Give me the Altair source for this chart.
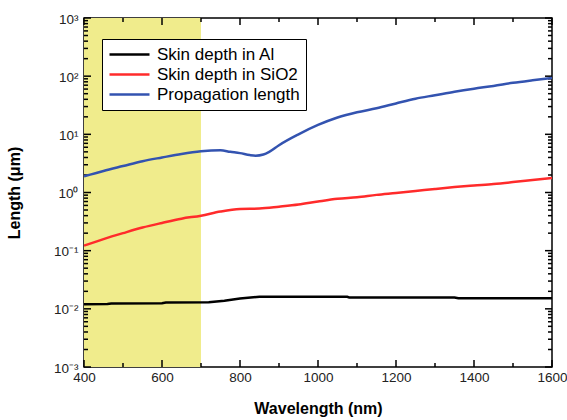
import altair as alt
import pandas as pd

series_names = ["Skin depth in Al", "Skin depth in SiO2", "Propagation length"]
series_colors = ["#000000", "#ff2b2b", "#3353b0"]

al_wl = [400, 460, 470, 600, 610, 720, 760, 800, 850, 1075, 1080, 1350, 1360, 1600]
al_len = [0.0120, 0.0121, 0.0123, 0.0125, 0.0128, 0.0130, 0.0138, 0.0150, 0.0162,
          0.0161, 0.0157, 0.0156, 0.0152, 0.0152]

sio2_wl = [400, 450, 500, 550, 600, 650, 700, 750, 800, 850, 900, 950, 1000, 1050,
           1100, 1150, 1200, 1250, 1300, 1350, 1400, 1450, 1500, 1550, 1600]
sio2_len = [0.122, 0.158, 0.20, 0.25, 0.30, 0.355, 0.40, 0.47, 0.52, 0.53, 0.57, 0.62,
            0.70, 0.78, 0.83, 0.91, 0.98, 1.06, 1.15, 1.24, 1.32, 1.40, 1.51, 1.64, 1.78]

prop_wl = [400, 450, 500, 550, 600, 650, 700, 750, 775, 800, 825, 840, 860, 875, 900,
           950, 1000, 1050, 1100, 1150, 1200, 1250, 1300, 1350, 1400, 1450, 1500, 1550, 1600]
prop_len = [1.9, 2.35, 2.85, 3.45, 4.0, 4.6, 5.1, 5.3, 5.0, 4.75, 4.4, 4.3, 4.5, 5.0, 6.5,
            10.0, 14.5, 19.5, 24.0, 28.0, 34.0, 41.0, 47.0, 54.0, 61.0, 68.0, 77.0, 85.0, 93.0]

band_start = [400]
band_end = [700]

x_major = [400, 600, 800, 1000, 1200, 1400, 1600]
x_minor = [500, 700, 900, 1100, 1300, 1500]
y_major = [0.001, 0.01, 0.1, 1, 10, 100, 1000]
y_labels = ["10\u207b\u00b3", "10\u207b\u00b2", "10\u207b\u00b9", "10\u2070",
            "10\u00b9", "10\u00b2", "10\u00b3"]
y_minor = [m * d for d in [0.001, 0.01, 0.1, 1, 10, 100] for m in range(2, 10)]

W, H = 468, 349
FONT = "Liberation Sans"
X_LO, X_HI = 400, 1600
Y_LO, Y_HI = 0.001, 1000
MAJOR_LEN, MINOR_LEN = 7, 4

rows = []
for name, wl, vals in [(series_names[0], al_wl, al_len),
                       (series_names[1], sio2_wl, sio2_len),
                       (series_names[2], prop_wl, prop_len)]:
    for a, b in zip(wl, vals):
        rows.append({"wl": a, "len": b, "series": name})
df = pd.DataFrame(rows)

# inward tick segments, converted from pixel lengths into data units of each scale
nm_per_px = (X_HI - X_LO) / W
decades_per_px = 6.0 / H
seg = []
k = 0
for vals, ln in [(y_major, MAJOR_LEN), (y_minor, MINOR_LEN)]:
    for v in vals:
        seg += [{"x": X_LO, "y": v, "id": k}, {"x": X_LO + ln * nm_per_px, "y": v, "id": k}]
        k += 1
        seg += [{"x": X_HI, "y": v, "id": k}, {"x": X_HI - ln * nm_per_px, "y": v, "id": k}]
        k += 1
for vals, ln in [(x_major, MAJOR_LEN), (x_minor, MINOR_LEN)]:
    f = 10 ** (ln * decades_per_px)
    for v in vals:
        seg += [{"x": v, "y": Y_LO, "id": k}, {"x": v, "y": Y_LO * f, "id": k}]
        k += 1
        seg += [{"x": v, "y": Y_HI, "id": k}, {"x": v, "y": Y_HI / f, "id": k}]
        k += 1
seg_df = pd.DataFrame(seg)

# y label expression built from the tick/label lists
label_expr = "'" + y_labels[-1] + "'"
for v, lab in reversed(list(zip(y_major[:-1], y_labels[:-1]))):
    label_expr = f"datum.value < {v * 3} ? '{lab}' : " + label_expr

xs = alt.Scale(domain=[X_LO, X_HI], nice=False, zero=False)
ys = alt.Scale(type="log", domain=[Y_LO, Y_HI], nice=False)

color = alt.Color(
    "series:N",
    scale=alt.Scale(domain=series_names, range=series_colors),
    legend=alt.Legend(
        orient="none", legendX=18, legendY=21, title=None,
        symbolType="stroke", symbolSize=1600, symbolStrokeWidth=2.5,
        clipHeight=19, rowPadding=1, labelOffset=6,
        labelFont=FONT, labelFontSize=17, labelColor="black", labelLimit=0,
        strokeColor="black", fillColor="white", padding=6,
    ),
)

x_axis = alt.Axis(
    values=x_major, format="d", labelFlush=False, ticks=False, domain=False, grid=False,
    labelFont=FONT, labelFontSize=13.5, labelColor="#222", labelPadding=3,
    title="Wavelength (nm)", titleFont=FONT, titleFontSize=16, titleFontWeight="bold",
    titleColor="black", titlePadding=17,
)
y_axis = alt.Axis(
    values=y_major, ticks=False, domain=False, grid=False, labelFlush=False,
    labelExpr=label_expr, labelFont=FONT, labelFontSize=13.5, labelColor="#222",
    labelPadding=6, labelOffset=1,
    title="Length (\u03bcm)", titleFont=FONT, titleFontSize=16, titleFontWeight="bold",
    titleColor="black", titlePadding=31,
)

band = alt.Chart(pd.DataFrame({"start": band_start, "end": band_end})).mark_rect(
    color="#f0ec8c"
).encode(
    x=alt.X("start:Q", scale=xs, axis=x_axis),
    x2="end:Q",
    y=alt.value(0),
    y2=alt.value(H),
)

ticks = alt.Chart(seg_df).mark_line(color="black", strokeWidth=1.5).encode(
    x=alt.X("x:Q", scale=xs, axis=x_axis),
    y=alt.Y("y:Q", scale=ys, axis=y_axis),
    detail="id:N",
)

lines_smooth = alt.Chart(df).transform_filter(
    alt.datum.series != series_names[0]
).mark_line(strokeWidth=2.5, interpolate="monotone").encode(
    x=alt.X("wl:Q", scale=xs, axis=x_axis),
    y=alt.Y("len:Q", scale=ys, axis=y_axis),
    color=color,
)
line_al = alt.Chart(df).transform_filter(
    alt.datum.series == series_names[0]
).mark_line(strokeWidth=2.5).encode(
    x=alt.X("wl:Q", scale=xs, axis=x_axis),
    y=alt.Y("len:Q", scale=ys, axis=y_axis),
    color=color,
)

chart = alt.layer(band, ticks, lines_smooth, line_al).properties(
    width=W, height=H,
    autosize=alt.AutoSizeParams(type="none"),
    padding={"left": 84, "top": 18, "right": 15, "bottom": 53},
).configure_view(stroke="black", strokeWidth=1.5)

chart.save("out.html", embed_options={"renderer": "svg", "actions": False})
